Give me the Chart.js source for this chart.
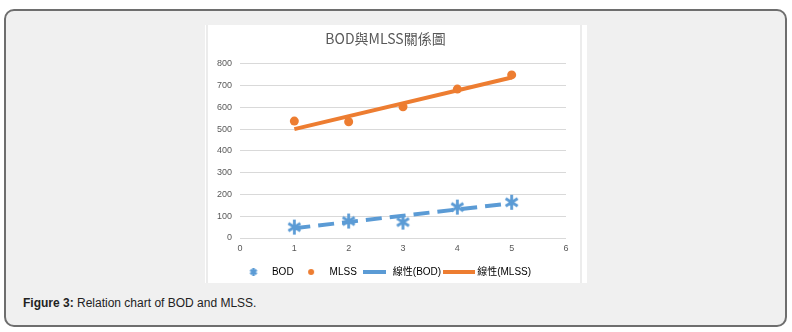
<!DOCTYPE html>
<html>
<head>
<meta charset="utf-8">
<script src="https://cdn.jsdelivr.net/npm/chart.js@4/dist/chart.umd.min.js"></script>
<style>
  body { margin: 0; background: #fff; width: 792px; height: 332px; position: relative; overflow: hidden; }
  .frame { position: absolute; left: 4px; top: 9px; width: 779px; height: 314px; background: #f0f0f0;
           border: 2px solid #6e6e6e; border-radius: 10px; }
  .figure { position: absolute; left: 205px; top: 25px; width: 382px; height: 258px; background: #fff; }
  .figure .edge { position: absolute; top: 0; width: 2px; height: 258px; background: #ececec; }
  .caption { position: absolute; left: 23px; top: 296px; font: 12px 'Liberation Sans', Arial, sans-serif; color: #222; }
  canvas { position: absolute; left: 0; top: 0; }
</style>
</head>
<body>
<div class="frame"></div>
<div class="figure">
  <canvas id="chart" width="382" height="262"></canvas>
  <div class="edge" style="left:1px"></div>
  <div class="edge" style="left:375px"></div>
</div>
<div class="caption"><b>Figure 3:</b> Relation chart of BOD and MLSS.</div>
<script>
// data
const xValues = [1, 2, 3, 4, 5];
const bodValues = [50, 78, 73, 142, 164];
const mlssValues = [537, 534, 603, 684, 749];
const trendX = [1, 5];
const bodTrend = [45, 160];
const mlssTrend = [500, 737];
const xTickValues = [0, 1, 2, 3, 4, 5, 6];
const yTickValues = [0, 100, 200, 300, 400, 500, 600, 700, 800];
const seriesLabels = ['BOD', 'MLSS', '線性(BOD)', '線性(MLSS)'];

const blue = '#5b9bd5';
const orange = '#ed7d31';

const toPoints = (xs, ys) => xs.map((x, i) => ({x: x, y: ys[i]}));

// excel style star marker: an X plus a vertical bar
function makeStar(size, lw) {
    const c = document.createElement('canvas');
    c.width = size; c.height = size;
    const g = c.getContext('2d');
    const m = size / 2, r = size / 2 - 1;
    g.strokeStyle = blue; g.lineWidth = lw; g.lineCap = 'butt';
    g.beginPath();
    g.moveTo(m, m - r); g.lineTo(m, m + r);
    g.moveTo(m - r * 0.8, m - r * 0.5); g.lineTo(m + r * 0.8, m + r * 0.5);
    g.moveTo(m + r * 0.8, m - r * 0.5); g.lineTo(m - r * 0.8, m + r * 0.5);
    g.stroke();
    return c;
}
function makeDot(r) {
    const c = document.createElement('canvas');
    c.width = r * 2 + 2; c.height = r * 2 + 2;
    const g = c.getContext('2d');
    g.fillStyle = orange;
    g.beginPath(); g.arc(r + 1, r + 1, r, 0, Math.PI * 2); g.fill();
    return c;
}
function makeLine(w, color) {
    const c = document.createElement('canvas');
    c.width = w; c.height = 6;
    const g = c.getContext('2d');
    g.strokeStyle = color; g.lineWidth = 4;
    g.beginPath(); g.moveTo(0, 3); g.lineTo(w, 3); g.stroke();
    return c;
}

const legendIcons = [makeStar(10, 2.6), makeDot(3), makeLine(23, blue), makeLine(32, orange)];

Chart.defaults.font.family = "'Liberation Sans', 'Noto Sans CJK TC', sans-serif";
Chart.defaults.color = '#595959';

const ctx = document.querySelector('#chart').getContext('2d');
new Chart(ctx, {
    type: 'scatter',
    data: {
        datasets: [
        {
            label: seriesLabels[0],
            data: toPoints(xValues, bodValues),
            pointStyle: makeStar(17, 2.8),
            order: 2
        },
        {
            label: seriesLabels[1],
            data: toPoints(xValues, mlssValues),
            pointStyle: 'circle',
            pointRadius: 4.5,
            backgroundColor: orange,
            borderColor: orange,
            borderWidth: 0,
            order: 3
        },
        {
            label: seriesLabels[2],
            data: toPoints(trendX, bodTrend),
            showLine: true,
            borderColor: blue,
            borderWidth: 4,
            borderDash: [16, 8],
            pointRadius: 0,
            order: 0
        },
        {
            label: seriesLabels[3],
            data: toPoints(trendX, mlssTrend),
            showLine: true,
            borderColor: orange,
            borderWidth: 4,
            pointRadius: 0,
            order: 1
        }
        ]
    },
    options: {
        responsive: false,
        animation: false,
        events: [],
        layout: { padding: { left: 0, right: 21, top: 0, bottom: 0 } },
        plugins: {
            title: {
                display: true,
                text: 'BOD與MLSS關係圖',
                color: '#595959',
                font: { family: "'Noto Sans CJK TC', sans-serif", size: 14, weight: 'normal' },
                padding: { top: 5, bottom: 17 }
            },
            legend: {
                position: 'bottom',
                labels: {
                    usePointStyle: true,
                    pointStyleWidth: 27,
                    padding: 4,
                    color: '#595959',
                    font: { size: 10 },
                    generateLabels: chart => chart.data.datasets.map((ds, i) => ({
                        text: ds.label,
                        pointStyle: legendIcons[i],
                        fillStyle: 'transparent',
                        strokeStyle: 'transparent',
                        lineWidth: 0,
                        hidden: false,
                        datasetIndex: i
                    })),
                    sort: (a, b) => a.datasetIndex - b.datasetIndex
                }
            },
            tooltip: { enabled: false }
        },
        scales: {
            x: {
                type: 'linear',
                min: 0, max: 6,
                afterBuildTicks: s => { s.ticks = xTickValues.map(v => ({value: v})); },
                afterFit: s => { s.height = 25; },
                grid: { display: false, drawTicks: false },
                border: { display: false },
                ticks: { font: { size: 9 }, padding: 5, color: '#595959' }
            },
            y: {
                min: 0, max: 800,
                afterBuildTicks: s => { s.ticks = yTickValues.map(v => ({value: v})); },
                afterFit: s => { s.width = 35; },
                grid: { color: '#d9d9d9', lineWidth: 1, drawTicks: false },
                border: { display: false },
                ticks: { font: { size: 9 }, padding: 8, color: '#595959' }
            }
        }
    }
})
</script>
</body>
</html>
